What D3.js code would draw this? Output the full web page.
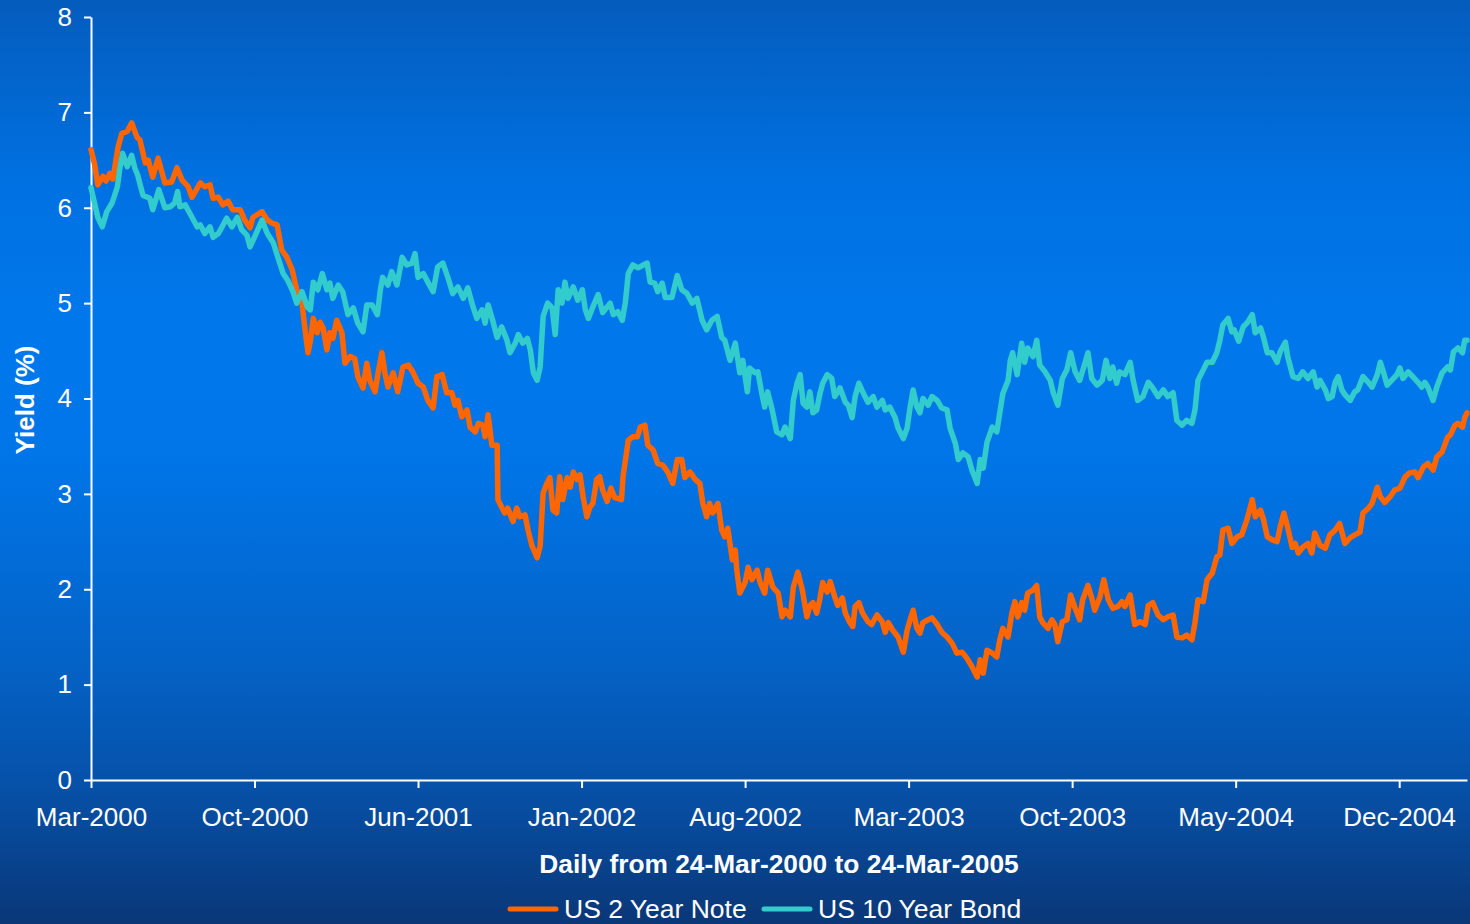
<!DOCTYPE html>
<html>
<head>
<meta charset="utf-8">
<script src="https://cdn.jsdelivr.net/npm/d3@7"></script>
<style>
  html, body { margin: 0; padding: 0; background: #0a3878; }
  svg { display: block; }
  text { font-family: "Liberation Sans", Arial, Helvetica, sans-serif; fill: #ffffff; }
</style>
</head>
<body>
<svg id="chart" width="1470" height="924"></svg>
<script>
// Period covered: daily closes from 24-Mar-2000 to 24-Mar-2005
const startDate = new Date(2000, 2, 24);
const endDate = new Date(2005, 2, 24);

const yTicks = [0, 1, 2, 3, 4, 5, 6, 7, 8];
// Category-axis ticks every 155 trading days (31 weeks)
const xTickDates = ["2000-03-24", "2000-10-27", "2001-06-01", "2002-01-04", "2002-08-09",
                    "2003-03-14", "2003-10-17", "2004-05-21", "2004-12-24"];
const xTickLabels = ["Mar-2000", "Oct-2000", "Jun-2001", "Jan-2002", "Aug-2002",
                     "Mar-2003", "Oct-2003", "May-2004", "Dec-2004"];

const seriesNames = ["US 2 Year Note", "US 10 Year Bond"];
const seriesColors = ["#ff6600", "#33cccc"];

// [days since 24-Mar-2000, yield %]
const note2 = [[0,6.61],[5,6.45],[9,6.24],[16,6.33],[20,6.28],[25,6.36],[29,6.30],[36,6.64],[41,6.78],[48,6.80],[54,6.89],[61,6.74],[65,6.71],[72,6.47],[76,6.50],[82,6.32],[89,6.52],[98,6.26],[107,6.27],[114,6.42],[121,6.29],[129,6.22],[134,6.11],[145,6.26],[151,6.22],[158,6.24],[162,6.10],[169,6.11],[175,6.03],[182,6.07],[188,5.98],[198,5.98],[204,5.87],[211,5.79],[215,5.90],[227,5.96],[234,5.87],[240,5.84],[247,5.82],[253,5.56],[260,5.48],[267,5.35],[273,5.14],[280,5.00],[284,4.72],[288,4.48],[291,4.60],[295,4.84],[300,4.69],[304,4.80],[308,4.74],[313,4.51],[317,4.69],[321,4.63],[326,4.82],[333,4.69],[337,4.37],[344,4.44],[350,4.42],[354,4.23],[361,4.11],[366,4.37],[370,4.19],[377,4.07],[381,4.27],[386,4.48],[390,4.27],[394,4.12],[401,4.27],[407,4.07],[414,4.33],[421,4.35],[427,4.28],[434,4.16],[441,4.12],[447,3.98],[454,3.90],[459,4.23],[466,4.25],[472,4.06],[479,4.06],[483,3.93],[487,3.98],[492,3.81],[499,3.88],[503,3.70],[510,3.65],[514,3.74],[520,3.72],[523,3.60],[527,3.83],[532,3.51],[539,3.51],[540,2.94],[545,2.86],[549,2.80],[553,2.85],[560,2.71],[565,2.85],[569,2.76],[576,2.78],[580,2.62],[585,2.46],[592,2.33],[596,2.45],[600,3.01],[605,3.11],[609,3.17],[613,2.83],[618,2.80],[622,3.18],[626,2.94],[632,3.17],[636,3.07],[640,3.23],[645,3.15],[649,3.20],[653,2.97],[658,2.76],[662,2.86],[666,2.90],[671,3.15],[675,3.18],[679,3.04],[685,2.92],[690,3.06],[695,2.96],[704,2.94],[706,3.18],[713,3.56],[719,3.60],[725,3.60],[729,3.70],[735,3.72],[739,3.51],[746,3.46],[752,3.32],[759,3.30],[766,3.22],[772,3.11],[778,3.36],[784,3.36],[788,3.17],[795,3.23],[802,3.15],[808,3.11],[812,2.90],[817,2.76],[821,2.90],[825,2.80],[832,2.90],[837,2.62],[841,2.55],[845,2.64],[851,2.31],[855,2.41],[857,2.20],[861,1.96],[868,2.07],[872,2.23],[877,2.10],[884,2.20],[888,2.07],[894,1.96],[898,2.20],[905,2.02],[912,1.96],[917,1.71],[921,1.78],[928,1.71],[932,2.02],[938,2.18],[944,1.99],[950,1.71],[954,1.83],[958,1.86],[963,1.75],[967,1.89],[971,2.07],[977,1.97],[981,2.08],[987,1.92],[991,1.83],[997,1.91],[1001,1.75],[1007,1.65],[1011,1.61],[1014,1.82],[1019,1.86],[1024,1.75],[1031,1.66],[1036,1.63],[1043,1.73],[1050,1.66],[1054,1.55],[1058,1.65],[1064,1.57],[1071,1.50],[1078,1.34],[1083,1.57],[1087,1.68],[1091,1.78],[1096,1.59],[1100,1.54],[1104,1.65],[1111,1.68],[1116,1.70],[1123,1.63],[1129,1.55],[1136,1.50],[1143,1.43],[1149,1.33],[1156,1.34],[1162,1.28],[1169,1.19],[1176,1.08],[1180,1.26],[1184,1.12],[1189,1.36],[1196,1.33],[1202,1.29],[1206,1.47],[1210,1.59],[1217,1.50],[1222,1.75],[1226,1.87],[1230,1.71],[1235,1.86],[1239,1.78],[1243,1.96],[1250,1.99],[1255,2.04],[1259,1.71],[1263,1.65],[1270,1.59],[1275,1.68],[1279,1.63],[1283,1.45],[1289,1.66],[1295,1.68],[1300,1.94],[1306,1.80],[1312,1.68],[1316,1.89],[1323,2.04],[1328,1.91],[1332,1.78],[1339,1.92],[1344,2.10],[1350,1.89],[1356,1.80],[1363,1.82],[1368,1.87],[1372,1.82],[1379,1.94],[1385,1.63],[1392,1.66],[1399,1.63],[1403,1.83],[1409,1.86],[1416,1.73],[1423,1.68],[1429,1.71],[1436,1.73],[1441,1.50],[1448,1.49],[1454,1.52],[1461,1.47],[1465,1.65],[1469,1.89],[1476,1.87],[1481,2.10],[1488,2.17],[1494,2.34],[1498,2.36],[1502,2.62],[1509,2.64],[1514,2.48],[1521,2.55],[1527,2.57],[1534,2.73],[1541,2.94],[1545,2.76],[1552,2.83],[1556,2.73],[1561,2.55],[1567,2.52],[1574,2.50],[1578,2.65],[1583,2.80],[1588,2.65],[1594,2.44],[1598,2.48],[1602,2.38],[1608,2.44],[1615,2.48],[1620,2.38],[1624,2.59],[1631,2.46],[1638,2.43],[1644,2.57],[1651,2.62],[1657,2.69],[1664,2.48],[1671,2.54],[1677,2.57],[1684,2.60],[1688,2.80],[1695,2.85],[1700,2.90],[1707,3.07],[1711,2.97],[1717,2.91],[1724,2.97],[1730,3.04],[1737,3.06],[1744,3.18],[1750,3.22],[1757,3.23],[1761,3.17],[1768,3.28],[1774,3.32],[1781,3.25],[1786,3.39],[1793,3.44],[1800,3.59],[1804,3.62],[1810,3.72],[1814,3.74],[1820,3.70],[1823,3.80],[1826,3.85]];

const bond10 = [[0,6.21],[9,5.90],[15,5.80],[21,5.96],[28,6.05],[35,6.22],[38,6.40],[42,6.57],[48,6.43],[54,6.55],[58,6.42],[62,6.34],[69,6.13],[78,6.10],[82,5.98],[90,6.19],[98,6.00],[105,6.01],[111,6.05],[115,6.17],[118,6.01],[125,6.03],[134,5.90],[141,5.80],[145,5.82],[151,5.73],[158,5.80],[162,5.69],[169,5.73],[174,5.80],[180,5.89],[187,5.80],[194,5.90],[200,5.77],[207,5.71],[211,5.59],[218,5.71],[227,5.87],[234,5.73],[242,5.63],[248,5.48],[255,5.31],[261,5.24],[268,5.12],[273,5.00],[280,5.12],[287,4.96],[291,4.93],[295,5.22],[301,5.14],[307,5.31],[313,5.14],[317,5.21],[321,5.05],[328,5.19],[334,5.12],[341,4.88],[348,4.95],[354,4.79],[361,4.70],[366,4.98],[373,4.98],[380,4.88],[384,5.14],[387,5.27],[394,5.19],[399,5.33],[406,5.19],[413,5.48],[419,5.40],[426,5.42],[430,5.52],[434,5.27],[441,5.31],[447,5.22],[454,5.12],[460,5.38],[467,5.42],[474,5.26],[480,5.10],[487,5.17],[494,5.05],[500,5.16],[507,4.96],[512,4.84],[519,4.93],[523,4.79],[527,4.98],[533,4.82],[539,4.64],[545,4.75],[552,4.61],[556,4.48],[563,4.58],[567,4.67],[573,4.58],[579,4.63],[583,4.51],[587,4.27],[592,4.19],[596,4.33],[600,4.86],[606,5.00],[612,4.95],[616,4.67],[620,5.14],[625,5.00],[629,5.22],[633,5.05],[640,5.17],[646,5.03],[652,5.14],[656,4.93],[660,4.84],[666,4.96],[673,5.09],[679,4.90],[689,5.00],[693,4.88],[699,4.91],[705,4.82],[709,5.00],[713,5.31],[719,5.40],[726,5.37],[733,5.40],[738,5.42],[742,5.22],[748,5.21],[752,5.12],[758,5.21],[762,5.06],[771,5.06],[778,5.29],[784,5.14],[791,5.10],[798,5.00],[804,5.05],[811,4.82],[817,4.72],[824,4.82],[831,4.86],[837,4.64],[841,4.61],[848,4.40],[855,4.58],[861,4.27],[865,4.40],[871,4.07],[874,4.32],[881,4.27],[885,4.28],[890,4.06],[894,3.91],[898,4.07],[904,3.88],[910,3.65],[917,3.62],[921,3.70],[928,3.58],[932,3.98],[937,4.16],[941,4.25],[945,3.95],[950,3.91],[954,4.07],[958,3.85],[963,3.88],[967,4.04],[971,4.16],[977,4.25],[983,4.21],[987,4.02],[994,4.11],[1001,3.96],[1005,3.93],[1010,3.80],[1014,4.02],[1019,4.16],[1024,4.07],[1031,3.96],[1038,4.02],[1043,3.91],[1050,3.98],[1054,3.88],[1060,3.91],[1067,3.80],[1071,3.69],[1078,3.58],[1083,3.69],[1087,3.91],[1091,4.09],[1096,3.91],[1100,3.85],[1104,4.00],[1111,3.93],[1116,4.02],[1123,3.98],[1129,3.90],[1136,3.88],[1140,3.69],[1147,3.53],[1151,3.36],[1157,3.43],[1164,3.39],[1169,3.25],[1176,3.11],[1180,3.36],[1184,3.27],[1189,3.54],[1196,3.70],[1202,3.65],[1206,3.85],[1210,4.05],[1217,4.19],[1220,4.40],[1223,4.48],[1229,4.25],[1235,4.58],[1239,4.38],[1243,4.53],[1250,4.44],[1255,4.61],[1259,4.35],[1266,4.28],[1273,4.19],[1277,4.06],[1283,3.93],[1289,4.21],[1295,4.30],[1300,4.48],[1306,4.28],[1312,4.19],[1319,4.37],[1323,4.48],[1328,4.21],[1335,4.14],[1342,4.19],[1347,4.40],[1352,4.21],[1356,4.33],[1361,4.16],[1365,4.28],[1372,4.25],[1379,4.38],[1383,4.19],[1389,3.98],[1396,4.02],[1403,4.17],[1409,4.11],[1416,4.02],[1423,4.09],[1429,4.02],[1436,4.06],[1441,3.77],[1448,3.72],[1454,3.77],[1461,3.74],[1465,3.88],[1469,4.19],[1476,4.30],[1481,4.38],[1488,4.38],[1494,4.48],[1498,4.61],[1502,4.77],[1509,4.84],[1514,4.70],[1517,4.72],[1523,4.60],[1529,4.75],[1535,4.80],[1541,4.88],[1545,4.69],[1552,4.74],[1556,4.64],[1561,4.48],[1567,4.48],[1574,4.38],[1578,4.49],[1585,4.59],[1588,4.44],[1595,4.23],[1602,4.21],[1608,4.28],[1615,4.21],[1622,4.28],[1627,4.12],[1631,4.19],[1638,4.09],[1642,4.00],[1647,4.02],[1651,4.17],[1655,4.23],[1660,4.09],[1664,4.04],[1671,3.98],[1677,4.07],[1681,4.09],[1688,4.23],[1695,4.17],[1700,4.12],[1707,4.25],[1711,4.38],[1715,4.28],[1720,4.14],[1726,4.19],[1733,4.25],[1737,4.32],[1741,4.21],[1748,4.28],[1754,4.23],[1761,4.17],[1766,4.12],[1770,4.17],[1774,4.12],[1781,3.98],[1786,4.12],[1793,4.27],[1800,4.33],[1804,4.30],[1808,4.49],[1814,4.53],[1820,4.48],[1823,4.61],[1826,4.61]];

const W = 1470, H = 924;
const margin = { left: 91, right: 3, top: 17, bottom: 144 };

const svg = d3.select("#chart");

// Background: vertical blue gradient, dark at the edges, brightest in the upper middle
const defs = svg.append("defs");
const grad = defs.append("linearGradient")
  .attr("id", "bg").attr("x1", 0).attr("y1", 0).attr("x2", 0).attr("y2", 1);
[[0, "#055cbd"], [0.2, "#0071e2"], [0.36, "#0078ec"], [0.5, "#0075e8"],
 [0.72, "#0462c6"], [0.85, "#0651a9"], [1, "#0a3777"]]
  .forEach(([o, c]) => grad.append("stop").attr("offset", o).attr("stop-color", c));
svg.append("rect").attr("width", W).attr("height", H).attr("fill", "url(#bg)");

const x = d3.scaleTime()
  .domain([startDate, endDate])
  .range([margin.left, W - margin.right]);
const y = d3.scaleLinear()
  .domain([0, 8])
  .range([H - margin.bottom, margin.top]);

const parseDay = d3.timeParse("%Y-%m-%d");
const tickDates = xTickDates.map(parseDay);

// Axes
const xAxis = d3.axisBottom(x)
  .tickValues(tickDates)
  .tickFormat((d, i) => xTickLabels[i])
  .tickSize(8).tickSizeOuter(0).tickPadding(20);
const yAxis = d3.axisLeft(y)
  .tickValues(yTicks)
  .tickFormat(d3.format("d"))
  .tickSize(7).tickSizeOuter(0).tickPadding(12);

const gx = svg.append("g")
  .attr("transform", `translate(0,${H - margin.bottom})`)
  .call(xAxis);
const gy = svg.append("g")
  .attr("transform", `translate(${margin.left},0)`)
  .call(yAxis);

[gx, gy].forEach(g => {
  g.select(".domain").attr("stroke", "#ffffff").attr("stroke-width", 2);
  g.selectAll(".tick line").attr("stroke", "#ffffff").attr("stroke-width", 2);
  g.selectAll(".tick text")
    .attr("fill", "#ffffff")
    .style("font-family", "'Liberation Sans', Arial, sans-serif")
    .style("font-size", "26px");
});

// Series lines
const line = d3.line()
  .x(d => x(d3.timeDay.offset(startDate, d[0])))
  .y(d => y(d[1]));

const series = [note2, bond10];
series.forEach((data, i) => {
  svg.append("path")
    .datum(data)
    .attr("fill", "none")
    .attr("stroke", seriesColors[i])
    .attr("stroke-width", 5.5)
    .attr("stroke-linejoin", "round")
    .attr("stroke-linecap", "round")
    .attr("d", line);
});

// Axis titles
svg.append("text")
  .attr("x", (margin.left + W - margin.right) / 2)
  .attr("y", 873)
  .attr("text-anchor", "middle")
  .style("font-size", "26.3px")
  .style("font-weight", "bold")
  .text("Daily from 24-Mar-2000 to 24-Mar-2005");

svg.append("text")
  .attr("transform", "translate(34,400) rotate(-90)")
  .attr("text-anchor", "middle")
  .style("font-size", "26px")
  .style("font-weight", "bold")
  .text("Yield (%)");

// Legend
const legendItems = [{ x: 508 }, { x: 762 }];
const legend = svg.append("g");
seriesNames.forEach((name, i) => {
  const lx = legendItems[i].x;
  legend.append("line")
    .attr("x1", lx + 2).attr("x2", lx + 48)
    .attr("y1", 909).attr("y2", 909)
    .attr("stroke", seriesColors[i])
    .attr("stroke-width", 5)
    .attr("stroke-linecap", "round");
  legend.append("text")
    .attr("x", lx + 56)
    .attr("y", 918)
    .style("font-size", "26.5px")
    .text(name);
});
</script>
</body>
</html>
